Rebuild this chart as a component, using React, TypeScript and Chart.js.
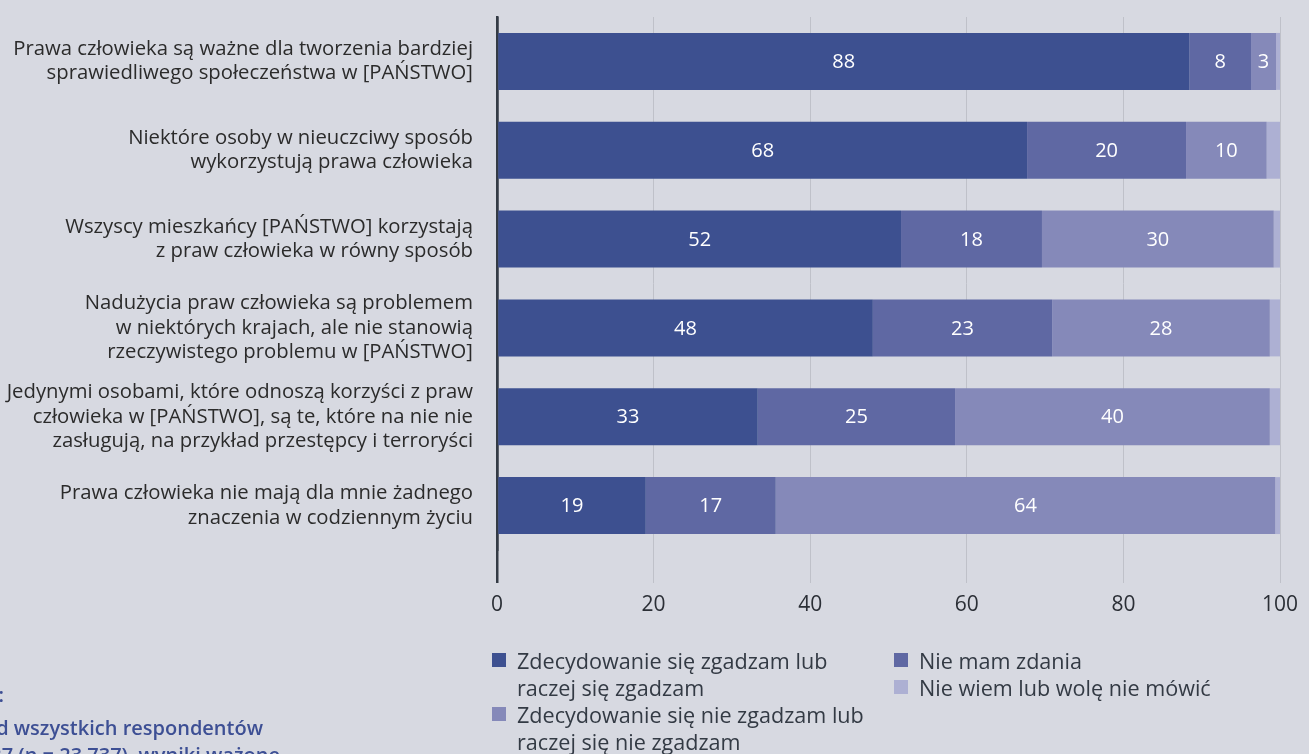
import React, { useEffect, useRef } from "react";
import { Chart, registerables } from "chart.js";

Chart.register(...registerables);

const categories: string[][] = [
  ["Prawa człowieka są ważne dla tworzenia bardziej", "sprawiedliwego społeczeństwa w [PAŃSTWO]"],
  ["Niektóre osoby w nieuczciwy sposób", "wykorzystują prawa człowieka"],
  ["Wszyscy mieszkańcy [PAŃSTWO] korzystają", "z praw człowieka w równy sposób"],
  ["Nadużycia praw człowieka są problemem", "w niektórych krajach, ale nie stanowią", "rzeczywistego problemu w [PAŃSTWO]"],
  ["Jedynymi osobami, które odnoszą korzyści z praw", "człowieka w [PAŃSTWO], są te, które na nie nie", "zasługują, na przykład przestępcy i terroryści"],
  ["Prawa człowieka nie mają dla mnie żadnego", "znaczenia w codziennym życiu"],
];

const agree = [88.4, 67.7, 51.6, 48.0, 33.3, 19.0];
const noOpinion = [7.9, 20.3, 18.0, 22.9, 25.2, 16.6];
const disagree = [3.2, 10.3, 29.6, 27.8, 40.2, 63.8];
const dontKnow = [0.5, 1.7, 0.8, 1.3, 1.3, 0.6];

const seriesNames = [
  "Zdecydowanie się zgadzam lub\nraczej się zgadzam",
  "Nie mam zdania",
  "Zdecydowanie się nie zgadzam lub\nraczej się nie zgadzam",
  "Nie wiem lub wolę nie mówić",
];
const seriesColors = ["#3d5090", "#5f68a3", "#8589b9", "#adb0d3"];

const xTicks = [0, 20, 40, 60, 80, 100];

const noteLines = ["Podstawa:", "Spośród wszystkich respondentów", "UE27 (n = 23 737), wyniki ważone"];

const BG = "#d7d9e1";
const FONT = "'Open Sans', 'Noto Sans', sans-serif";

export default function App() {
  const ref = useRef<HTMLCanvasElement | null>(null);

  useEffect(() => {
    document.body.style.background = BG;
    const canvas = ref.current;
    if (!canvas) return;
    const seriesData = [agree, noOpinion, disagree, dontKnow];

    const labelPlugin = {
      id: "segLabels",
      afterDatasetsDraw(chart: any) {
        const ctx = chart.ctx;
        ctx.save();
        ctx.fillStyle = "#ffffff";
        ctx.font = `20px ${FONT}`;
        ctx.textAlign = "center";
        ctx.textBaseline = "middle";
        for (let d = 0; d < 3; d++) {
          const meta = chart.getDatasetMeta(d);
          meta.data.forEach((el: any, i: number) => {
            const v = chart.data.datasets[d].data[i];
            const p = el.getCenterPoint();
            ctx.fillText(String(Math.round(v)), p.x, p.y + 1);
          });
        }
        ctx.restore();
      },
    };

    const chart = new Chart(canvas, {
      type: "bar",
      data: {
        labels: categories,
        datasets: seriesData.map((data, i) => ({
          label: seriesNames[i],
          data,
          backgroundColor: seriesColors[i],
          borderWidth: 0,
          barPercentage: 0.641,
          categoryPercentage: 1,
        })),
      },
      options: {
        indexAxis: "y",
        responsive: false,
        animation: false,
        devicePixelRatio: 1,
        layout: { padding: { top: 17, right: 29, left: 0, bottom: 0 } },
        plugins: { legend: { display: false }, tooltip: { enabled: false } },
        scales: {
          x: {
            stacked: true,
            min: 0,
            max: 100,
            afterBuildTicks: (s: any) => {
              s.ticks = xTicks.map((v) => ({ value: v }));
            },
            afterFit: (s: any) => {
              s.height = 754 - 550;
              s.paddingLeft = 0;
              s.paddingRight = 0;
            },
            ticks: {
              font: { family: FONT, size: 21 },
              color: "#2b2f36",
              padding: 9,
            },
            grid: {
              color: (c: any) => (c.tick && c.tick.value === 0 ? "#343b45" : "#bfc1c9"),
              lineWidth: (c: any) => (c.tick && c.tick.value === 0 ? 2.5 : 1),
              tickLength: 33,
              drawTicks: true,
            },
            border: { display: false },
          },
          y: {
            stacked: true,
            z: 1,
            afterFit: (s: any) => {
              s.width = 497;
              s.paddingTop = 0;
              s.paddingBottom = 0;
            },
            ticks: {
              font: { family: FONT, size: 20.3, lineHeight: 1.21 },
              color: "#2b2b2b",
              padding: 24,
            },
            grid: { display: false, drawTicks: false },
            border: { display: true, color: "#343b45", width: 2.5 },
          },
        },
      },
      plugins: [labelPlugin],
    } as any);
    return () => chart.destroy();
  }, []);

  const legendItem = (i: number, left: number, top: number) => (
    <div
      key={i}
      style={{
        position: "absolute",
        left,
        top,
        fontFamily: FONT,
        fontSize: 21.6,
        lineHeight: "27px",
        color: "#333a44",
        whiteSpace: "pre-line",
      }}
    >
      <span
        style={{
          position: "absolute",
          left: -25,
          top: 6,
          width: 14,
          height: 14,
          background: seriesColors[i],
        }}
      />
      {seriesNames[i]}
    </div>
  );

  const noteEnds = [4, 263, 280];
  const noteTops = [683, 716, 743];

  return (
    <div
      style={{
        position: "absolute",
        left: 0,
        top: 0,
        width: 1309,
        height: 754,
        background: BG,
        overflow: "hidden",
      }}
    >
      <canvas ref={ref} width={1309} height={754} style={{ position: "absolute", left: 0, top: 0 }} />
      {legendItem(0, 517, 647)}
      {legendItem(2, 517, 701)}
      {legendItem(1, 919, 647)}
      {legendItem(3, 919, 674)}
      {noteLines.map((t, i) => (
        <div
          key={t}
          style={{
            position: "absolute",
            right: 1309 - noteEnds[i],
            top: noteTops[i],
            fontFamily: FONT,
            fontSize: 20,
            lineHeight: "24px",
            fontWeight: 600,
            color: "#3d4f94",
            whiteSpace: "nowrap",
          }}
        >
          {t}
        </div>
      ))}
    </div>
  );
}
